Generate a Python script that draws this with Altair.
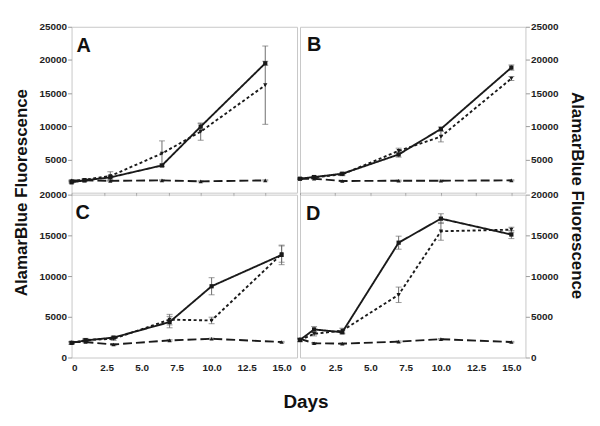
import altair as alt
import pandas as pd

days = [0, 1, 3, 7, 10, 15]
series_names = ["solid", "dotted", "dashed"]

# Panel A
a_solid = [1550, 1850, 2300, 4100, 9950, 19500]
a_solid_err = [120, 150, 250, 200, 450, 300]
a_dotted = [1700, 1950, 2500, 5900, 9200, 16200]
a_dotted_err = [120, 150, 650, 1900, 1300, 5900]
a_dashed = [1850, 1850, 1780, 1850, 1700, 1850]
a_dashed_err = [80, 80, 80, 80, 80, 80]

# Panel B
b_solid = [2100, 2350, 2850, 5750, 9600, 18850]
b_solid_err = [100, 150, 200, 400, 300, 400]
b_dotted = [2100, 2300, 2750, 6300, 8450, 17200]
b_dotted_err = [100, 150, 200, 400, 800, 300]
b_dashed = [2100, 2100, 1750, 1800, 1800, 1850]
b_dashed_err = [80, 80, 80, 80, 80, 80]

# Panel C
c_solid = [1800, 2100, 2450, 4350, 8750, 12600]
c_solid_err = [150, 200, 150, 700, 1050, 1200]
c_dotted = [1750, 2150, 2300, 4650, 4550, 12700]
c_dotted_err = [150, 200, 200, 650, 400, 1000]
c_dashed = [1900, 1900, 1600, 2100, 2300, 1900]
c_dashed_err = [80, 80, 80, 80, 80, 80]

# Panel D
d_solid = [2150, 3450, 3100, 14100, 17050, 15100]
d_solid_err = [200, 350, 200, 800, 600, 500]
d_dotted = [2150, 2900, 3300, 7700, 15500, 15700]
d_dotted_err = [200, 250, 300, 950, 1100, 300]
d_dashed = [2300, 1750, 1700, 1950, 2250, 1900]
d_dashed_err = [80, 80, 80, 80, 80, 80]

x_ticks = [0, 2.5, 5, 7.5, 10, 12.5, 15]
y_ticks_top = [5000, 10000, 15000, 20000, 25000]
y_ticks_bottom = [0, 5000, 10000, 15000, 20000]

FONT = "Liberation Sans"
INK = "#1a1a1a"
ERR = "#6e6e6e"


def panel(vals, errs, ymax, yvals, yorient, xmax, show_xlabels, height, letter,
          letter_x, letter_y, extras):
    rows = []
    for s, v, e in zip(series_names, vals, errs):
        for d, vv, ee in zip(days, v, e):
            rows.append(dict(day=d, value=vv, err=ee, series=s))
    df = pd.DataFrame(rows)
    base = alt.Chart(df).transform_calculate(
        lo="datum.value - datum.err", hi="datum.value + datum.err"
    )
    if show_xlabels:
        xaxis = alt.Axis(values=x_ticks, title=None, domain=False, ticks=False,
                         labelPadding=5,
                         labelExpr="datum.value == 0 ? '0' : format(datum.value, '.1f')")
    else:
        xaxis = alt.Axis(values=x_ticks, title=None, domain=False, labels=False,
                         tickSize=3)
    xscale = alt.Scale(domain=[0, xmax], nice=False, zero=False)
    yscale = alt.Scale(domain=[0, ymax], nice=False)
    yaxis = alt.Axis(orient=yorient, values=yvals, format="d", title=None,
                     domain=False, tickSize=4, labelPadding=1)
    x = alt.X("day:Q", scale=xscale, axis=xaxis)

    rules = base.mark_rule(color=ERR, strokeWidth=1).encode(
        x=x, y=alt.Y("lo:Q", scale=yscale, axis=yaxis), y2="hi:Q"
    )
    cap_lo = base.mark_tick(color=ERR, thickness=1, size=6, orient="horizontal").encode(
        x=x, y=alt.Y("lo:Q", scale=yscale, axis=yaxis)
    )
    cap_hi = base.mark_tick(color=ERR, thickness=1, size=6, orient="horizontal").encode(
        x=x, y=alt.Y("hi:Q", scale=yscale, axis=yaxis)
    )
    lines = base.mark_line(color=INK, strokeWidth=1.9).encode(
        x=x,
        y=alt.Y("value:Q", scale=yscale, axis=yaxis),
        strokeDash=alt.StrokeDash(
            "series:N",
            scale=alt.Scale(domain=series_names, range=[[1, 0], [3, 2.5], [9, 4]]),
            legend=None,
        ),
        detail="series:N",
    )
    points = base.mark_point(filled=True, color=INK, opacity=1, size=18).encode(
        x=x,
        y=alt.Y("value:Q", scale=yscale, axis=yaxis),
        shape=alt.Shape(
            "series:N",
            scale=alt.Scale(domain=series_names,
                            range=["square", "triangle-down", "triangle-up"]),
            legend=None,
        ),
    )
    lab = alt.Chart(pd.DataFrame({"t": [letter]})).mark_text(
        font=FONT, fontWeight="bold", fontSize=20, color="#111",
        align="left", baseline="alphabetic"
    ).encode(text="t:N", x=alt.value(letter_x), y=alt.value(letter_y))
    layers = [rules, cap_lo, cap_hi, lines, points, lab] + extras
    return alt.layer(*layers).properties(width=227, height=height)


left_title = alt.Chart(pd.DataFrame({"t": ["AlamarBlue Fluorescence"]})).mark_text(
    font=FONT, fontWeight="bold", fontSize=17, color="#111", angle=270,
    align="center", baseline="middle"
).encode(text="t:N", x=alt.value(-50), y=alt.value(167))

right_title = alt.Chart(pd.DataFrame({"t": ["AlamarBlue Fluorescence"]})).mark_text(
    font=FONT, fontWeight="bold", fontSize=17, color="#111", angle=90,
    align="center", baseline="middle"
).encode(text="t:N", x=alt.value(279), y=alt.value(170))

days_title = alt.Chart(pd.DataFrame({"t": ["Days"]})).mark_text(
    font=FONT, fontWeight="bold", fontSize=19, color="#111",
    align="center", baseline="middle"
).encode(text="t:N", x=alt.value(236), y=alt.value(209))

pa = panel([a_solid, a_dotted, a_dashed], [a_solid_err, a_dotted_err, a_dashed_err],
           25000, y_ticks_top, "left", 17.46, False, 167, "A", 5, 25, [left_title])
pb = panel([b_solid, b_dotted, b_dashed], [b_solid_err, b_dotted_err, b_dashed_err],
           25000, y_ticks_top, "right", 16, False, 167, "B", 7, 24, [right_title])
pc = panel([c_solid, c_dotted, c_dashed], [c_solid_err, c_dotted_err, c_dashed_err],
           20000, y_ticks_bottom, "left", 16.1, True, 164, "C", 4, 25, [days_title])
pd_ = panel([d_solid, d_dotted, d_dashed], [d_solid_err, d_dotted_err, d_dashed_err],
            20000, y_ticks_bottom, "right", 16, True, 164, "D", 6, 26, [])

chart = alt.concat(
    pa, pb, pc, pd_, columns=2, spacing={"row": 2, "column": 3}, bounds="flush"
).resolve_scale(
    x="independent", y="independent", strokeDash="independent", shape="independent"
).properties(
    padding={"left": 4, "top": 11.5, "right": 5, "bottom": 5}
).configure_view(
    stroke="#c8c8c8", strokeWidth=1
).configure_axis(
    labelFont=FONT, labelFontWeight="bold", labelFontSize=10, labelColor="#1e1e1e",
    tickColor="#9a9a9a", grid=False
)

chart.save("out.html", embed_options={"renderer": "svg", "actions": False})
